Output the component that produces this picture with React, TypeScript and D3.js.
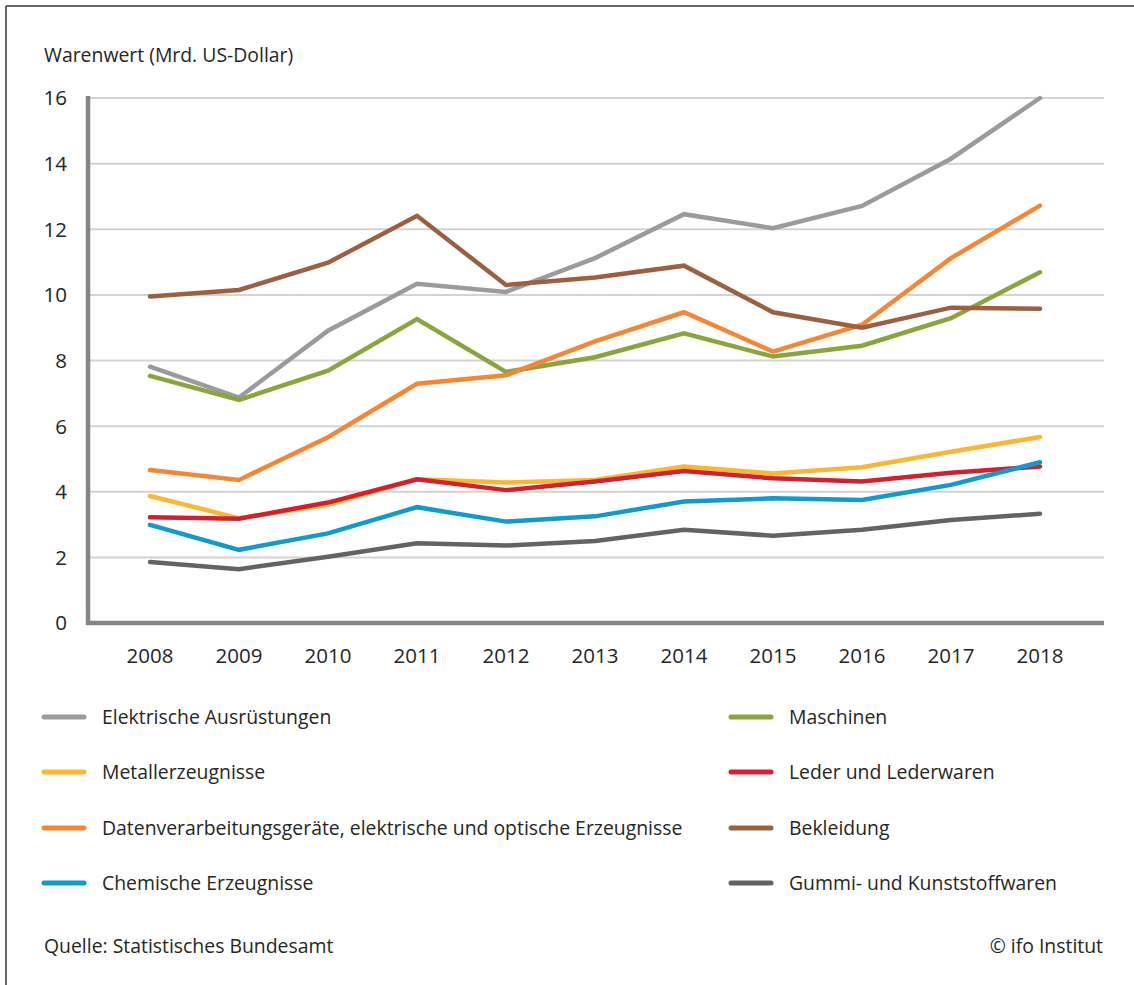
import React from "react";
import * as d3 from "d3";

const years = [2008, 2009, 2010, 2011, 2012, 2013, 2014, 2015, 2016, 2017, 2018];
const yTicks = [0, 2, 4, 6, 8, 10, 12, 14, 16];

const elektrische = [7.81, 6.87, 8.91, 10.34, 10.09, 11.12, 12.46, 12.03, 12.71, 14.15, 16.0];
const maschinen = [7.53, 6.8, 7.69, 9.26, 7.65, 8.1, 8.83, 8.12, 8.45, 9.29, 10.69];
const metall = [3.87, 3.19, 3.6, 4.38, 4.28, 4.36, 4.77, 4.56, 4.75, 5.22, 5.67];
const leder = [3.22, 3.18, 3.67, 4.38, 4.05, 4.31, 4.63, 4.41, 4.31, 4.58, 4.77];
const daten = [4.66, 4.36, 5.66, 7.29, 7.55, 8.58, 9.47, 8.27, 9.09, 11.12, 12.72];
const bekleidung = [9.95, 10.15, 10.98, 12.41, 10.3, 10.53, 10.89, 9.47, 9.0, 9.61, 9.58];
const chemische = [2.99, 2.23, 2.73, 3.53, 3.09, 3.25, 3.7, 3.8, 3.75, 4.21, 4.9];
const gummi = [1.86, 1.64, 2.02, 2.43, 2.36, 2.5, 2.84, 2.66, 2.84, 3.14, 3.33];

const seriesNames = [
  "Elektrische Ausrüstungen",
  "Maschinen",
  "Metallerzeugnisse",
  "Leder und Lederwaren",
  "Datenverarbeitungsgeräte, elektrische und optische Erzeugnisse",
  "Bekleidung",
  "Chemische Erzeugnisse",
  "Gummi- und Kunststoffwaren",
];
const seriesValues = [elektrische, maschinen, metall, leder, daten, bekleidung, chemische, gummi];
const seriesColors = ["#9b9b9e", "#8aa53c", "#fbb632", "#d3202f", "#f58634", "#9c6040", "#0f9ad0", "#636363"];

const FONT = "'Open Sans', 'Noto Sans', sans-serif";
const TXT = "#262626";

export default function App() {
  const W = 1134;
  const H = 985;
  const x = d3.scalePoint<number>().domain(years).range([150, 1040]);
  const y = d3.scaleLinear().domain([0, 16]).range([623, 98]);
  const line = d3
    .line<number>()
    .x((_, i) => x(years[i]) as number)
    .y((d) => y(d));

  const legendRows = [717, 772, 828, 883];

  return (
    <svg
      width={W}
      height={H}
      style={{ position: "absolute", left: 0, top: 0, background: "#fff" }}
      fontFamily={FONT}
    >
      <rect x={0} y={0} width={W} height={H} fill="#fff" />
      <line x1={6} y1={6} x2={W} y2={6} stroke="#333" strokeWidth={1.5} />
      <line x1={6} y1={6} x2={6} y2={H} stroke="#333" strokeWidth={1.5} />

      <text x={44} y={62} fontSize={19.4} fill={TXT}>
        Warenwert (Mrd. US-Dollar)
      </text>

      {yTicks.map((t) =>
        t > 0 ? (
          <line key={"g" + t} x1={88} x2={1104} y1={y(t)} y2={y(t)} stroke="#d3d3d3" strokeWidth={2} />
        ) : null
      )}
      {yTicks.map((t) => (
        <text key={"t" + t} x={67} y={y(t)} dy="0.36em" textAnchor="end" fontSize={20.5} fill={TXT}>
          {t}
        </text>
      ))}
      {years.map((yr) => (
        <text key={"x" + yr} x={x(yr) as number} y={663} textAnchor="middle" fontSize={20.5} fill={TXT}>
          {yr}
        </text>
      ))}

      {seriesValues.map((vals, i) => (
        <path
          key={"s" + i}
          d={line(vals) || ""}
          fill="none"
          stroke={seriesColors[i]}
          strokeWidth={4.5}
          strokeLinecap="round"
          strokeLinejoin="miter"
        />
      ))}

      <line x1={88} y1={96} x2={88} y2={625} stroke="#858589" strokeWidth={4.5} />
      <line x1={86} y1={623} x2={1104} y2={623} stroke="#858589" strokeWidth={4.5} />

      {seriesNames.map((name, i) => {
        const col = i % 2;
        const row = Math.floor(i / 2);
        const cy = legendRows[row];
        const lx = col === 0 ? 44 : 731;
        const tx = col === 0 ? 102 : 789;
        return (
          <g key={"l" + i}>
            <line x1={lx} x2={lx + 40} y1={cy} y2={cy} stroke={seriesColors[i]} strokeWidth={5} strokeLinecap="round" />
            <text x={tx} y={cy} dy="0.35em" fontSize={19.4} fill={TXT}>
              {name}
            </text>
          </g>
        );
      })}

      <text x={44} y={953} fontSize={19.4} fill={TXT}>
        Quelle: Statistisches Bundesamt
      </text>
      <text x={1103} y={953} textAnchor="end" fontSize={19.4} fill={TXT}>
        © ifo Institut
      </text>
    </svg>
  );
}
